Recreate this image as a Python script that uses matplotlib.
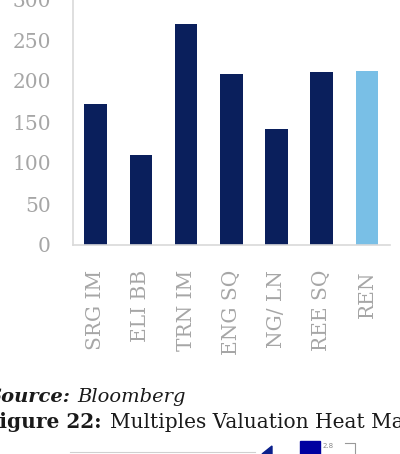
import matplotlib
matplotlib.use("Agg")
import matplotlib.pyplot as plt
from matplotlib.patches import Rectangle, Polygon

tickers = ["SRG IM", "ELI BB", "TRN IM", "ENG SQ", "NG/ LN", "REE SQ", "REN"]
values = [172, 110, 270, 208, 142, 211, 212]
colors = ["#0a1f5c"] * 6 + ["#79bfe6"]
y_ticks = [0, 50, 100, 150, 200, 250, 300]

plt.rcParams["font.family"] = ["DejaVu Serif"]

fig = plt.figure(figsize=(4.0, 4.54), dpi=100)
W, H = 400, 454

# main chart, top of the axis runs off the picture
ax = fig.add_axes([73 / W, 209 / H, (389.5 - 73) / W, (455 - 209) / H])
ax.bar(range(len(tickers)), values, width=0.5, color=colors)
ax.set_xlim(-0.5, len(tickers) - 0.5)
ax.set_ylim(0, 300)
ax.set_yticks(y_ticks)
ax.set_xticks(range(len(tickers)))
ax.set_xticklabels(tickers, rotation=90)
ax.tick_params(axis="y", length=0, pad=16, labelsize=14.5, labelcolor="#a6a6a6")
ax.tick_params(axis="x", length=0, pad=18, labelsize=14.5, labelcolor="#a6a6a6")
for s in ["top", "right"]:
    ax.spines[s].set_visible(False)
ax.spines["left"].set_color("#d9d9d9")
ax.spines["bottom"].set_color("#d9d9d9")
ax.spines["left"].set_linewidth(1.2)
ax.spines["bottom"].set_linewidth(1.2)

# caption text below the chart (cut at the left edge like the source crop)
fig.text(71 / W, 1 - 402 / H, "Source:", fontsize=14, fontweight="bold",
         fontstyle="italic", color="#1a1a1a", ha="right", va="baseline")
fig.text(77 / W, 1 - 402 / H, "Bloomberg", fontsize=14, fontstyle="italic",
         color="#1a1a1a", ha="left", va="baseline")
fig.text(102 / W, 1 - 428 / H, "Figure 22:", fontsize=14.5, fontweight="bold",
         color="#1a1a1a", ha="right", va="baseline")
fig.text(110 / W, 1 - 428 / H, "Multiples Valuation Heat Map", fontsize=14.5,
         color="#1a1a1a", ha="left", va="baseline")

# top edge of the next figure, cut off
fig.add_artist(plt.Line2D([70 / W, 255 / W], [1 - 452 / H, 1 - 452 / H],
                          color="#d0d0d0", lw=0.8))
fig.add_artist(Polygon([[262 / W, 0], [272 / W, 1 - 446 / H], [272 / W, 0]],
                       closed=True, color="#0a1f8c", transform=fig.transFigure))
fig.add_artist(Rectangle((300 / W, 0), 20 / W, 13 / H, color="#0000a0",
                         transform=fig.transFigure))
fig.text(323 / W, 1 - 446 / H, "2.8", fontsize=5, color="#888888",
         family="DejaVu Sans", va="center")
fig.add_artist(plt.Line2D([345 / W, 355 / W, 355 / W],
                          [1 - 443 / H, 1 - 443 / H, 0],
                          color="#999999", lw=0.8))

fig.savefig("out.png", dpi=100)
